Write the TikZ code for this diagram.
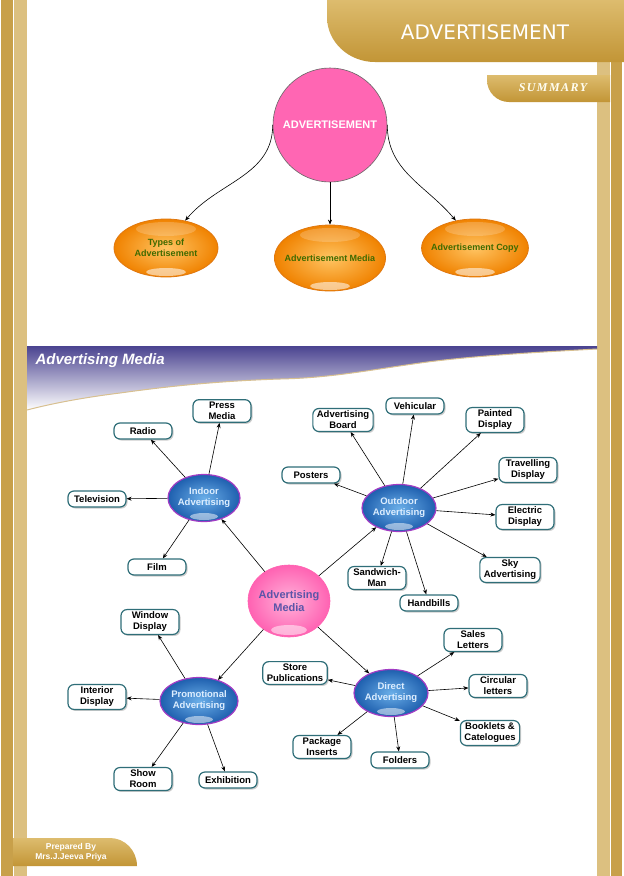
\documentclass[tikz,border=0pt]{standalone}
\usepackage{fontspec}
\setmainfont{Liberation Sans}
\newfontfamily\headfont{DejaVu Sans}
\newfontfamily\sumfont[LetterSpace=12]{Liberation Serif}
\usetikzlibrary{shapes.geometric,arrows.meta,shadows,calc}
\definecolor{golddark}{HTML}{C8A04A}
\definecolor{goldlight}{HTML}{DCC080}
\definecolor{goldtop}{HTML}{DDBC6E}
\definecolor{goldbot}{HTML}{C29536}
\definecolor{leafc}{HTML}{2F6E78}
\definecolor{hubin}{HTML}{6AAEE8}
\definecolor{hubout}{HTML}{1E5FAE}
\definecolor{hubborder}{HTML}{A23CC4}
\definecolor{hubtext}{HTML}{DDEEFF}
\definecolor{orin}{HTML}{FFC462}
\definecolor{orout}{HTML}{F08200}
\definecolor{ordraw}{HTML}{E07810}
\definecolor{ortext}{HTML}{3F6A00}
\definecolor{pinktop}{HTML}{FF66B3}
\definecolor{pinkin}{HTML}{FFB2DA}
\definecolor{pinkout}{HTML}{FF62B2}
\definecolor{centertext}{HTML}{5A55A8}
\definecolor{bandtop}{HTML}{4A4390}
\definecolor{bandedge}{HTML}{D8C090}
\begin{document}
\begin{tikzpicture}[x=1pt,y=1pt,
  arr/.style={-{Stealth[length=5pt,width=4pt]}, line width=0.6pt, black},
  leaf/.style={draw=leafc, line width=1.2pt, fill=white, rounded corners=6pt,
    drop shadow={shadow xshift=1.5pt,shadow yshift=-1.5pt,opacity=0.4},
    font=\bfseries\fontsize{9.5}{11}\selectfont, align=center,
    minimum width=58pt, minimum height=16pt, inner xsep=4pt, inner ysep=2.5pt},
  hub/.style={ellipse, draw=hubborder, line width=1.2pt, inner color=hubin, outer color=hubout,
    minimum width=74pt, minimum height=47pt, inner xsep=-5pt, inner ysep=-1pt,
    font=\bfseries\fontsize{9.5}{11}\selectfont, text=hubtext, align=center,
    path picture={\fill[white,opacity=0.5] ($(path picture bounding box.south)+(0,5pt)$) ellipse (14pt and 3.5pt);}},
  orange/.style={ellipse, draw=ordraw, line width=0.8pt, inner color=orin, outer color=orout,
    minimum width=104pt, minimum height=58pt, inner xsep=-6pt, inner ysep=0pt,
    font=\bfseries\fontsize{9}{10.5}\selectfont, text=ortext, align=center,
    path picture={\fill[white,opacity=0.2] ($(path picture bounding box.north)+(0,-10pt)$) ellipse (30pt and 7pt);
      \fill[white,opacity=0.55] ($(path picture bounding box.south)+(0,5pt)$) ellipse (20pt and 4pt);}},
  topcircle/.style={circle, fill=pinktop, draw=black!60, line width=0.6pt, minimum size=114pt,
    inner sep=0pt, font=\bfseries\fontsize{11}{13}\selectfont, text=white},
  centerball/.style={ellipse, draw=pinkout, line width=0.6pt, inner color=pinkin, outer color=pinkout,
    minimum width=82pt, minimum height=72pt, inner xsep=-8pt, inner ysep=0pt,
    font=\bfseries\fontsize{11}{13}\selectfont, text=centertext, align=center,
    path picture={\fill[white,opacity=0.5] ($(path picture bounding box.south)+(0,7pt)$) ellipse (18pt and 5pt);}}
]
\useasboundingbox (0,0) rectangle (624,-876);
\fill[white] (0,0) rectangle (624,-876);

% borders
\fill[golddark] (1,0) rectangle (13,-876);
\fill[goldlight] (14,0) rectangle (27,-876);
\fill[goldlight] (597,-62) rectangle (610,-876);
\fill[golddark] (611,-62) rectangle (622,-876);

% header
\shade[top color=goldtop, bottom color=goldbot]
  (327,0) -- (327,-17) arc[start angle=180,end angle=270,x radius=48,y radius=45] -- (624,-62) -- (624,0) -- cycle;
\node[font=\headfont\fontsize{20}{22}\selectfont, text=white] (title) at (485,-32) {ADVERTISEMENT};

% summary tab
\shade[top color=goldtop, bottom color=goldbot]
  (487,-75) -- (487,-80) arc[start angle=180,end angle=270,x radius=22,y radius=22] -- (610,-102) -- (610,-75) -- cycle;
\node[font=\sumfont\bfseries\itshape\fontsize{12}{14}\selectfont, text=white!95!yellow] (summary) at (553,-88) {SUMMARY};

% footer tab
\shade[top color=goldtop, bottom color=goldbot]
  (13,-838) -- (110,-838) arc[start angle=90,end angle=0,x radius=27,y radius=28] -- (137,-866) -- (13,-866) -- cycle;
\node[font=\bfseries\fontsize{8.5}{10}\selectfont, text=white, align=center] (footer) at (71,-852) {Prepared By\\Mrs.J.Jeeva Priya};

% top concept map
\node[topcircle] (adv) at (330,-125) {ADVERTISEMENT};
\node[orange] (types) at (166,-248) {Types of\\Advertisement};
\node[orange, minimum width=110pt, minimum height=66pt] (media) at (330,-258) {Advertisement Media};
\node[orange] (copy) at (475,-248) {Advertisement Copy};
\draw[arr] (adv.west) to[out=-90,in=50] (types.55);
\draw[arr] (adv.south) -- (media.north);
\draw[arr] (adv.east) to[out=-90,in=130] (copy.125);

% band
\shade[top color=bandtop, bottom color=white]
  (27,-346) -- (597,-346) -- (597,-349)
  .. controls (540,-352) and (470,-356) .. (420,-363)
  .. controls (370,-370) and (330,-378) .. (280,-379)
  .. controls (220,-381) and (170,-386) .. (120,-393)
  .. controls (80,-398) and (50,-404) .. (27,-410) -- cycle;
\draw[bandedge, line width=1pt] (597,-349)
  .. controls (540,-352) and (470,-356) .. (420,-363)
  .. controls (370,-370) and (330,-378) .. (280,-379)
  .. controls (220,-381) and (170,-386) .. (120,-393)
  .. controls (80,-398) and (50,-404) .. (27,-410);
\node[anchor=west, font=\bfseries\itshape\fontsize{15}{17}\selectfont, text=white] (band) at (32,-361) {Advertising Media};

% lower concept map
\node[centerball] (center) at (289,-601) {Advertising\\Media};
\node[hub, minimum width=72pt] (indoor) at (204,-498) {Indoor\\Advertising};
\node[hub] (outdoor) at (399,-508) {Outdoor\\Advertising};
\node[hub, minimum width=78pt] (promo) at (199,-701) {Promotional\\Advertising};
\node[hub] (direct) at (391,-693) {Direct\\Advertising};

\draw[arr] (center) -- (indoor);
\draw[arr] (center) -- (outdoor);
\draw[arr] (center) -- (promo);
\draw[arr] (center) -- (direct);

% indoor leaves
\node[leaf] (press) at (222,-411) {Press\\Media};
\node[leaf] (radio) at (143,-431) {Radio};
\node[leaf] (tv) at (97,-499) {Television};
\node[leaf] (film) at (157,-567) {Film};
\foreach \n in {press,radio,tv,film} \draw[arr] (indoor) -- (\n);

% outdoor leaves
\node[leaf] (board) at (343,-420) {Advertising\\Board};
\node[leaf] (vehic) at (415,-406) {Vehicular};
\node[leaf] (painted) at (495,-420) {Painted\\Display};
\node[leaf] (posters) at (311,-475) {Posters};
\node[leaf] (travel) at (528,-470) {Travelling\\Display};
\node[leaf] (electric) at (525,-517) {Electric\\Display};
\node[leaf] (sky) at (510,-570) {Sky\\Advertising};
\node[leaf] (sandwich) at (377,-578) {Sandwich-\\Man};
\node[leaf] (handbills) at (429,-603) {Handbills};
\foreach \n in {board,vehic,painted,posters,travel,electric,sky,sandwich,handbills} \draw[arr] (outdoor) -- (\n);

% promotional leaves
\node[leaf] (window) at (150,-622) {Window\\Display};
\node[leaf] (interior) at (97,-697) {Interior\\Display};
\node[leaf] (showroom) at (143,-779) {Show\\Room};
\node[leaf] (exhib) at (228,-780) {Exhibition};
\foreach \n in {window,interior,showroom,exhib} \draw[arr] (promo) -- (\n);

% direct leaves
\node[leaf] (sales) at (473,-640) {Sales\\Letters};
\node[leaf] (store) at (295,-673) {Store\\Publications};
\node[leaf] (circular) at (498,-686) {Circular\\letters};
\node[leaf] (booklets) at (490,-733) {Booklets \&\\Catelogues};
\node[leaf] (package) at (322,-747) {Package\\Inserts};
\node[leaf] (folders) at (400,-760) {Folders};
\foreach \n in {sales,store,circular,booklets,package,folders} \draw[arr] (direct) -- (\n);
\end{tikzpicture}
\end{document}
